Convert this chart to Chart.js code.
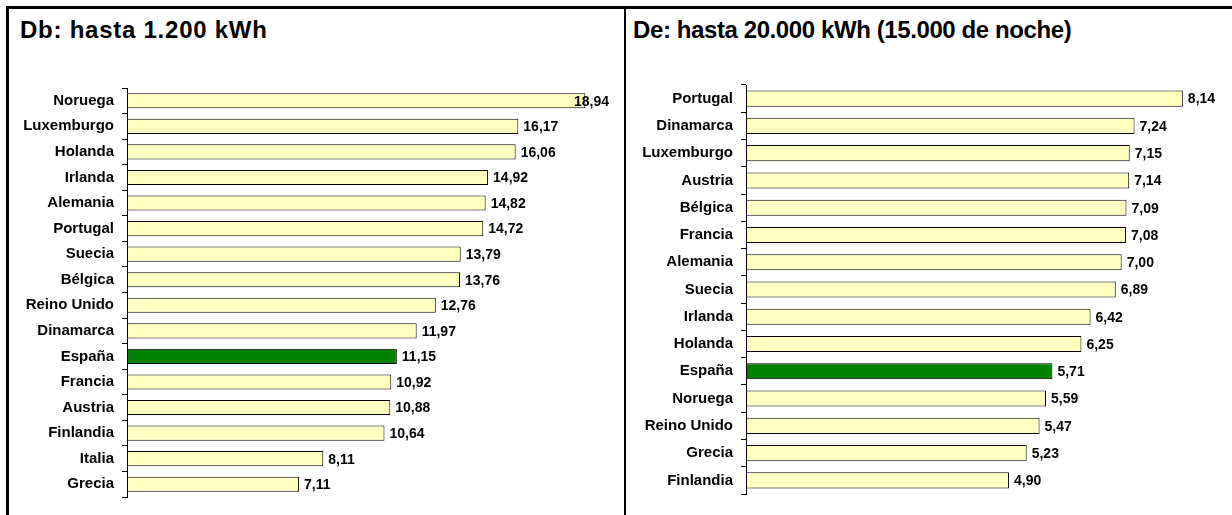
<!DOCTYPE html>
<html>
<head>
<meta charset="utf-8">
<script src="https://cdn.jsdelivr.net/npm/chart.js@4.4.1/dist/chart.umd.min.js"></script>
<style>
  body { margin: 0; background: #fff; width: 1232px; height: 515px; overflow: hidden; position: relative; font-family: "Liberation Sans", Arial, sans-serif; }
  .line { position: absolute; background: #000; }
  .title { position: absolute; top: 18px; font-size: 24px; line-height: 24px; font-weight: bold; color: #000; white-space: nowrap; }
  canvas { position: absolute; top: 0; }
</style>
</head>
<body>
<div class="line" style="left:6px; top:6px; width:1226px; height:3px;"></div>
<div class="line" style="left:6px; top:6px; width:3px; height:509px;"></div>
<div class="line" style="left:624px; top:9px; width:2px; height:506px;"></div>
<div class="title" style="left:20px; letter-spacing:0.75px;">Db: hasta 1.200 kWh</div>
<div class="title" style="left:633px; letter-spacing:-0.4px;">De: hasta 20.000 kWh (15.000 de noche)</div>
<canvas id="chartDb" width="612" height="515" style="left:10px;"></canvas>
<canvas id="chartDe" width="602" height="515" style="left:630px;"></canvas>
<script>
// Db: hasta 1.200 kWh
const dbCountries = ['Noruega', 'Luxemburgo', 'Holanda', 'Irlanda', 'Alemania', 'Portugal', 'Suecia', 'Bélgica',
    'Reino Unido', 'Dinamarca', 'España', 'Francia', 'Austria', 'Finlandia', 'Italia', 'Grecia'];
const dbValues = [18.94, 16.17, 16.06, 14.92, 14.82, 14.72, 13.79, 13.76, 12.76, 11.97, 11.15, 10.92, 10.88, 10.64, 8.11, 7.11];

// De: hasta 20.000 kWh (15.000 de noche)
const deCountries = ['Portugal', 'Dinamarca', 'Luxemburgo', 'Austria', 'Bélgica', 'Francia', 'Alemania', 'Suecia',
    'Irlanda', 'Holanda', 'España', 'Noruega', 'Reino Unido', 'Grecia', 'Finlandia'];
const deValues = [8.14, 7.24, 7.15, 7.14, 7.09, 7.08, 7.00, 6.89, 6.42, 6.25, 5.71, 5.59, 5.47, 5.23, 4.90];

const highlight = 'España';

Chart.defaults.font.family = '"Liberation Sans", Arial, sans-serif';
Chart.defaults.color = '#000';

// value labels at the end of each bar, with decimal comma
const valueLabels = {
    id: 'valueLabels',
    afterDatasetsDraw(chart) {
        const ctx = chart.ctx;
        const area = chart.chartArea;
        const meta = chart.getDatasetMeta(0);
        ctx.save();
        ctx.font = 'bold 14px "Liberation Sans", Arial, sans-serif';
        ctx.fillStyle = '#000';
        ctx.textBaseline = 'middle';
        meta.data.forEach((bar, i) => {
            const txt = chart.data.datasets[0].data[i].toFixed(2).replace('.', ',');
            const w = ctx.measureText(txt).width;
            let x = bar.x + 5;
            if (x + w > area.right) x = area.right - w - 2;
            ctx.fillText(txt, x, bar.y + 1);
        });
        ctx.restore();
    }
};

function makeChart(id, labels, values, max, axisWidth, padding) {
    const ctx = document.getElementById(id).getContext('2d');
    return new Chart(ctx, {
        type: 'bar',
        data: {
            labels: labels,
            datasets: [{
                data: values,
                backgroundColor: labels.map(l => l === highlight ? '#008000' : '#FFFFC0'),
                borderColor: '#000',
                borderWidth: 1,
                borderSkipped: false,
                barPercentage: 0.59,
                categoryPercentage: 1
            }]
        },
        options: {
            indexAxis: 'y',
            responsive: false,
            animation: false,
            devicePixelRatio: 1,
            layout: { padding: padding },
            plugins: { legend: { display: false }, tooltip: { enabled: false } },
            scales: {
                x: { display: false, min: 0, max: max },
                y: {
                    afterFit: scale => { scale.width = axisWidth; },
                    border: { display: true, color: '#000', width: 1 },
                    grid: { drawOnChartArea: false, drawTicks: true, tickLength: 5, color: '#000', offset: true },
                    ticks: { padding: 8, font: { size: 15, weight: 'bold' }, color: '#000', autoSkip: false }
                }
            }
        },
        plugins: [valueLabels]
    });
}

makeChart('chartDb', dbCountries, dbValues, 20, 117, { top: 88, bottom: 18, left: 0, right: 11 });
makeChart('chartDe', deCountries, deValues, 9, 116, { top: 85, bottom: 21, left: 0, right: 3 });
</script>
</body>
</html>
